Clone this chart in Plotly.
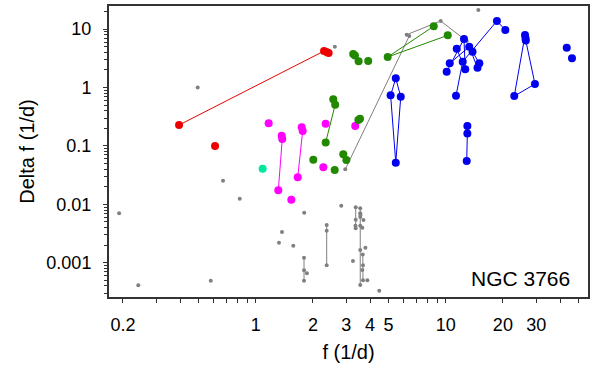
import math
import plotly.graph_objects as go

# ---------------- data (f in 1/d, Delta f in 1/d) ----------------
gray_f = [0.495, 2.61, 14.85, 0.191, 0.241, 0.58, 0.673, 0.824, 1.326, 1.80, 1.375, 1.577,
          1.796, 1.796, 1.86, 1.796,
          2.82, 2.364, 2.364, 2.364, 3.25, 4.47,
          3.36, 3.55, 3.55, 3.56, 3.55, 3.36, 3.69, 3.35, 3.36, 3.55, 3.64, 3.78, 3.55, 3.66,
          3.67, 3.64, 3.67, 3.87, 3.55,
          2.96, 6.43, 6.23, 9.41, 12.9]
gray_df = [1.0, 5.0, 21.2, 0.00701, 0.00041, 0.000492, 0.0254, 0.0125, 0.0022, 0.00718, 0.00336, 0.00195,
           0.00122, 0.00074, 0.000658, 0.000492,
           0.00946, 0.00442, 0.00353, 0.000902, 0.00107, 0.000332,
           0.00889, 0.00855, 0.00701, 0.00656, 0.00606, 0.00545, 0.00538, 0.0043, 0.00388, 0.0043,
           0.00398, 0.00181, 0.00165, 0.00139, 0.000902, 0.00075, 0.0005, 0.0005, 0.000415,
           0.0397, 7.62, 8.02, 13.8, 6.26]
gray_links = [(12, 15), (17, 19), (22, 30), (23, 40), (35, 38),
              (41, 42), (42, 43), (43, 44), (44, 45)]

red_f = [0.395, 2.29, 2.36, 2.42, 0.611]
red_df = [0.228, 4.22, 4.05, 3.9, 0.1]
red_links = [(0, 1)]

green_f = [3.26, 3.33, 3.48, 3.91, 4.95, 8.65, 10.25, 2.56, 2.62, 2.335, 3.47, 3.54,
           2.01, 2.89, 3.0, 2.605]
green_df = [3.75, 3.53, 2.81, 2.84, 3.33, 11.2, 7.83, 0.628, 0.507, 0.115, 0.278, 0.292,
            0.058, 0.0718, 0.0574, 0.0387]
green_links = [(4, 5), (4, 6), (8, 9)]

magenta_f = [1.17, 1.37, 1.38, 1.746, 1.767, 2.335, 3.34, 2.27, 1.664, 1.315, 1.54]
magenta_df = [0.244, 0.150, 0.131, 0.208, 0.18, 0.24, 0.219, 0.043, 0.029, 0.0174, 0.012]
magenta_links = [(2, 9), (4, 8)]

cyan_f = [1.088]
cyan_df = [0.0407]

blue_f = [5.46, 5.13, 5.80, 5.46,
          18.6, 20.6, 12.48, 11.43, 13.3, 13.84, 10.5, 12.29, 10.12, 12.67, 15.03, 14.7, 11.33,
          26.15, 26.3, 26.4, 29.5, 22.96, 43.35, 46.2, 13.0, 13.0, 12.9]
blue_df = [1.437, 0.735, 0.696, 0.0516,
           13.8, 9.65, 6.77, 4.62, 4.99, 4.10, 2.60, 2.77, 1.865, 2.05, 2.60, 2.18, 0.724,
           7.93, 7.04, 6.38, 1.148, 0.715, 4.80, 3.16, 0.219, 0.164, 0.0551]
blue_links = [(0, 1), (0, 2), (1, 3), (2, 3), (11, 4), (4, 5), (6, 12), (16, 11), (6, 13),
              (8, 15), (9, 14), (7, 13), (10, 8), (17, 21), (19, 20), (21, 20),
              (24, 25), (25, 26)]

x_tick_vals = [0.2, 1, 2, 3, 4, 5, 10, 20, 30]
x_tick_text = ["0.2", "1", "2", "3", "4", "5", "10", "20", "30"]
x_minor_vals = [0.3, 0.4, 0.5, 0.6, 0.7, 0.8, 0.9, 6, 7, 8, 9, 40, 50]
y_tick_vals = [0.001, 0.01, 0.1, 1, 10]
y_tick_text = ["0.001", "0.01", "0.1", "1", "10"]
y_minor_vals = [m * 10.0 ** e for e in range(-4, 2) for m in range(2, 10)]

x_range = [0.169, 56.1]
y_range = [0.000259, 24.9]


def link_xy(fs, dfs, links):
    xs, ys = [], []
    for i, j in links:
        xs += [fs[i], fs[j], None]
        ys += [dfs[i], dfs[j], None]
    return xs, ys


fig = go.Figure()

groups = [
    (gray_f, gray_df, gray_links, "#808080", 4),
    (red_f, red_df, red_links, "#EE0000", 8),
    (magenta_f, magenta_df, magenta_links, "#FF00FF", 8),
    (cyan_f, cyan_df, [], "#00E8A0", 8),
    (green_f, green_df, green_links, "#228800", 8),
    (blue_f, blue_df, blue_links, "#0000EE", 8),
]
for fs, dfs, links, col, sz in groups:
    if links:
        lx, ly = link_xy(fs, dfs, links)
        fig.add_trace(go.Scatter(x=lx, y=ly, mode="lines",
                                 line=dict(color=col, width=1), hoverinfo="skip"))
    fig.add_trace(go.Scatter(x=fs, y=dfs, mode="markers",
                             marker=dict(color=col, size=sz, line=dict(width=0))))

axis_font = dict(family="Liberation Sans, Arial, sans-serif", size=18, color="black")
title_font = dict(family="Liberation Sans, Arial, sans-serif", size=20, color="black")

fig.update_layout(
    width=600, height=375,
    margin=dict(l=109, r=12, t=6, b=78, autoexpand=False),
    paper_bgcolor="white", plot_bgcolor="white",
    showlegend=False,
    xaxis=dict(type="log", range=[math.log10(x_range[0]), math.log10(x_range[1])],
               automargin=False,
               tickmode="array", tickvals=x_tick_vals, ticktext=x_tick_text,
               ticks="outside", ticklen=4, tickcolor="#333", tickwidth=1,
               minor=dict(tickvals=x_minor_vals, ticks="outside", ticklen=4,
                          tickcolor="#333", showgrid=False),
               showgrid=False, zeroline=False,
               showline=True, mirror=True, linecolor="#333", linewidth=2,
               tickfont=axis_font, ticklabelstandoff=6,
               title=dict(text="f (1/d)", font=title_font, standoff=11)),
    yaxis=dict(type="log", range=[math.log10(y_range[0]), math.log10(y_range[1])],
               automargin=False,
               tickmode="array", tickvals=y_tick_vals, ticktext=y_tick_text,
               ticks="outside", ticklen=4, tickcolor="#333", tickwidth=1,
               minor=dict(tickvals=y_minor_vals, ticks="outside", ticklen=3,
                          tickcolor="#333", showgrid=False),
               showgrid=False, zeroline=False,
               showline=True, mirror=True, linecolor="#333", linewidth=2,
               tickfont=axis_font, ticklabelstandoff=8,
               title=dict(text="Delta f (1/d)", font=title_font, standoff=6)),
    annotations=[dict(text="NGC 3766", xref="paper", yref="paper",
                      x=0.967, y=0.065, xanchor="right", yanchor="middle",
                      showarrow=False,
                      font=dict(family="Liberation Sans, Arial, sans-serif", size=21,
                                color="black"))],
)

fig.write_html("out.html", config={"displayModeBar": False},
               post_script="document.body.style.margin='0';")
